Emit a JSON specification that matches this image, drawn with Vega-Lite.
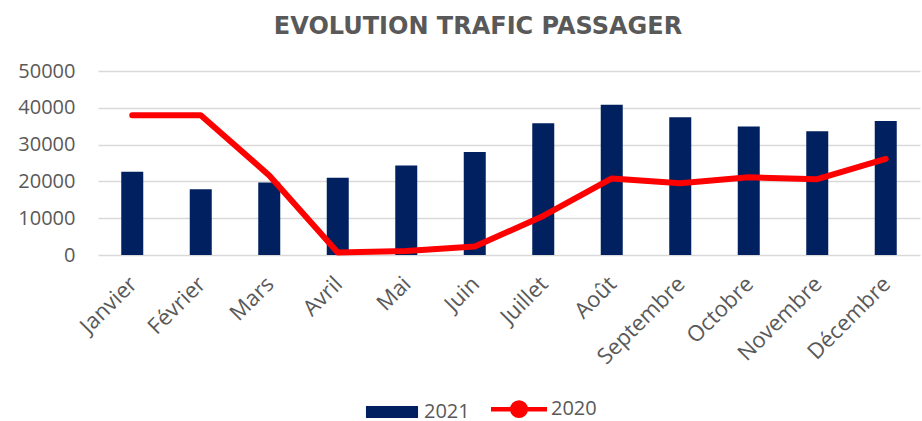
{
  "$schema": "https://vega.github.io/schema/vega-lite/v6.json",
  "width": 822,
  "height": 184,
  "autosize": "none",
  "padding": {"left": 98, "top": 71, "right": 2, "bottom": 166},
  "background": "white",
  "title": {
    "text": "EVOLUTION TRAFIC PASSAGER",
    "font": "DejaVu Sans",
    "fontSize": 24,
    "fontWeight": "bold",
    "color": "#595959",
    "anchor": "middle",
    "frame": "group",
    "baseline": "alphabetic",
    "offset": 3,
    "dx": -31
  },
  "data": {
    "values": [
      {"mois": "Janvier", "v2021": 22600, "v2020": 38000},
      {"mois": "Février", "v2021": 17900, "v2020": 38000},
      {"mois": "Mars", "v2021": 19700, "v2020": 21600},
      {"mois": "Avril", "v2021": 21000, "v2020": 700},
      {"mois": "Mai", "v2021": 24300, "v2020": 1100},
      {"mois": "Juin", "v2021": 28000, "v2020": 2300},
      {"mois": "Juillet", "v2021": 35800, "v2020": 10600},
      {"mois": "Août", "v2021": 40800, "v2020": 20800},
      {"mois": "Septembre", "v2021": 37400, "v2020": 19500},
      {"mois": "Octobre", "v2021": 34900, "v2020": 21100},
      {"mois": "Novembre", "v2021": 33600, "v2020": 20600},
      {"mois": "Décembre", "v2021": 36400, "v2020": 26100}
    ]
  },
  "encoding": {
    "x": {
      "field": "mois",
      "type": "nominal",
      "sort": null,
      "title": null,
      "scale": {"paddingInner": 0, "paddingOuter": 0},
      "axis": {
        "labelAngle": -45,
        "labelFont": "Open Sans",
        "labelFontSize": 22,
        "labelColor": "#595959",
        "domain": false,
        "ticks": false,
        "labelPadding": 18,
        "labelOffset": -6,
        "labelOverlap": false,
        "grid": false
      }
    }
  },
  "layer": [
    {
      "mark": {"type": "bar", "size": 22, "color": "#002060"},
      "encoding": {
        "y": {
          "field": "v2021",
          "type": "quantitative",
          "title": null,
          "scale": {"domain": [0, 50000], "nice": false},
          "axis": {
            "tickCount": 5,
            "labelFont": "Open Sans",
            "labelFontSize": 20,
            "labelColor": "#595959",
            "labelPadding": 23,
            "labelOverlap": false,
            "labelExpr": "replace(datum.label, ',', '')",
            "domain": false,
            "ticks": false,
            "gridColor": "#d9d9d9",
            "gridWidth": 1.5
          }
        },
        "color": {
          "datum": "2021",
          "type": "nominal",
          "scale": {"domain": ["2021", "2020"], "range": ["#002060", "#FF0000"]},
          "legend": {
            "orient": "none",
            "legendX": 284,
            "legendY": 328,
            "direction": "horizontal",
            "title": null,
            "symbolSize": 3136,
            "labelFont": "Open Sans",
            "labelFontSize": 20,
            "labelColor": "#595959",
            "labelOffset": 22,
            "columnPadding": 12,
            "encode": {
              "symbols": {
                "update": {
                  "shape": {"signal": "datum.value === '2021' ? 'M-0.93,-0.21H0.93V0.21H-0.93Z' : 'M-1,0H1M0.24,0A0.24,0.24 0 1,1 -0.24,0A0.24,0.24 0 1,1 0.24,0Z'"},
                  "fill": {"value": "#002060"},
                  "stroke": {"value": "#FF0000"},
                  "strokeWidth": {"signal": "datum.value === '2021' ? 0 : 4.5"},
                  "opacity": {"value": 1},
                  "fillOpacity": {"value": 1}
                }
              }
            }
          }
        }
      }
    },
    {
      "mark": {"type": "line", "strokeWidth": 6, "strokeCap": "round", "strokeJoin": "round"},
      "encoding": {
        "y": {"field": "v2020", "type": "quantitative"},
        "color": {"datum": "2020", "type": "nominal"}
      }
    }
  ],
  "config": {
    "view": {"stroke": null}
  }
}
